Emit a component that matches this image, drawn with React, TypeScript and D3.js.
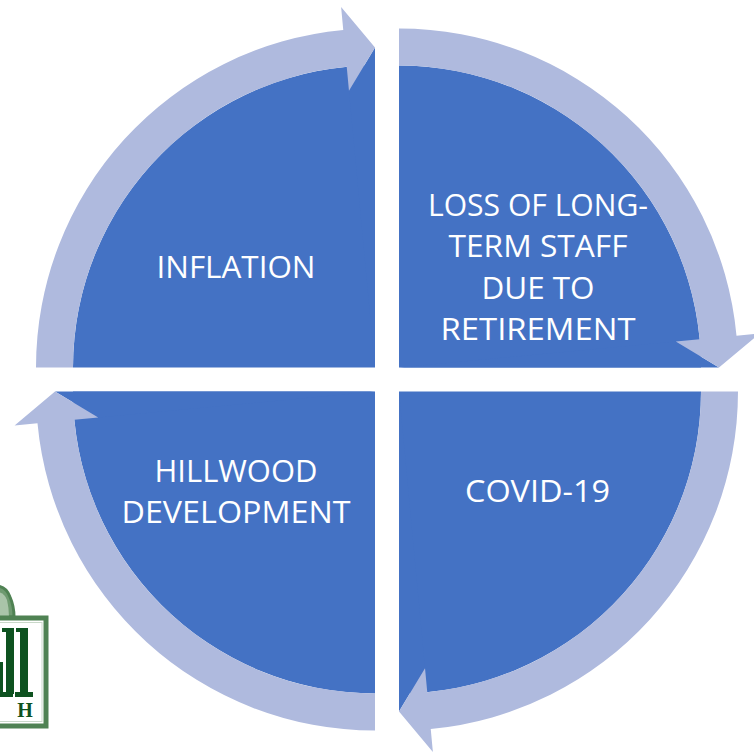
import React from "react";
import * as d3 from "d3";

// ---- data ----
const segments = ["INFLATION", "LOSS OF LONG-TERM STAFF DUE TO RETIREMENT", "COVID-19", "HILLWOOD DEVELOPMENT"];
const labelLines: string[][] = [
  ["INFLATION"],
  ["LOSS OF LONG-", "TERM STAFF", "DUE TO", "RETIREMENT"],
  ["COVID-19"],
  ["HILLWOOD", "DEVELOPMENT"],
];

// ---- layout ----
const W = 754;
const CX = 387;
const CY = 379.5;
const GAP = 12;
const R_IN = 302;
const R_OUT = 339;
const HEAD_IN = 278;
const HEAD_OUT = 362;
const R_TIP = 320;
const HEAD_LEN = 30;
const DARK = "#4472C4";
const LIGHT = "#AFBADE";
const FONT = "'Open Sans', Lato, sans-serif";
const FONT_SIZE = 31.5;
const LINE_H = 41.3;
const labelPos = [
  { x: 236, y: 278, widths: [159] },
  { x: 538, y: 216, widths: [220, 179, 113, 195] },
  { x: 537.5, y: 502, widths: [145] },
  { x: 236, y: 482, widths: [163, 229] },
];

const ox = -GAP;
const oy = -GAP;
const pt = (r: number, a: number): [number, number] => [ox + r * Math.cos(a), oy + r * Math.sin(a)];

const a0 = Math.PI;
const a1 = 1.5 * Math.PI;
const ab = a1 - HEAD_LEN / R_TIP;

function arrowPath(): string {
  const p = d3.path();
  const s = pt(R_OUT, a0);
  p.moveTo(s[0], s[1]);
  p.arc(ox, oy, R_OUT, a0, ab, false);
  const ho = pt(HEAD_OUT, ab);
  const tip = pt(R_TIP, a1);
  const hi = pt(HEAD_IN, ab);
  const ib = pt(R_IN, ab);
  p.lineTo(ho[0], ho[1]);
  p.lineTo(tip[0], tip[1]);
  p.lineTo(hi[0], hi[1]);
  p.lineTo(ib[0], ib[1]);
  p.arc(ox, oy, R_IN, ab, a0, true);
  p.closePath();
  return p.toString();
}

const quarter = d3.arc<any>()({
  innerRadius: 0,
  outerRadius: R_IN,
  startAngle: -Math.PI / 2,
  endAngle: 0,
}) as string;

function wedgeFill(): string {
  const tip = pt(R_TIP, a1);
  const hi = pt(HEAD_IN, ab);
  return d3.line()([[ox, oy], tip, hi]) + "Z";
}

export default function App() {
  const arrow = arrowPath();
  const wedge = wedgeFill();
  const logoGreen = "#4F8253";
  const logoDark = "#0E5220";
  return (
    <svg
      width={W}
      height={W}
      viewBox={`0 0 ${W} ${W}`}
      style={{ position: "absolute", left: 0, top: 0, background: "#fff" }}
    >
      <rect x={0} y={0} width={W} height={W} fill="#fff" />
      {segments.map((s, k) => (
        <g key={"q" + k} transform={`translate(${CX},${CY}) rotate(${k * 90})`}>
          <path d={quarter} transform={`translate(${ox},${oy})`} fill={DARK} />
          <path d={wedge} fill={DARK} />
        </g>
      ))}
      {segments.map((s, k) => (
        <g key={"a" + k} transform={`translate(${CX},${CY}) rotate(${k * 90})`}>
          <path d={arrow} fill={LIGHT} />
        </g>
      ))}
      {labelLines.map((lines, k) => (
        <g key={"t" + k}>
          {lines.map((ln, i) => (
            <text
              key={i}
              x={labelPos[k].x}
              y={labelPos[k].y + i * LINE_H}
              textAnchor="middle"
              fill="#fff"
              fontFamily={FONT}
              fontSize={FONT_SIZE}
              textLength={labelPos[k].widths[i]}
              lengthAdjust="spacingAndGlyphs"
            >
              {ln}
            </text>
          ))}
        </g>
      ))}
      {/* logo fragment, lower left */}
      <g>
        <path d="M -4 617 L -4 586 Q 6 586 10 597 Q 14 606 14 617 Z" fill="#6E9A70" stroke={logoGreen} strokeWidth={3} />
        <path d="M -4 617 L -4 592 Q 4 592 7 600 Q 9 608 9 617 Z" fill="#A9C4A9" />
        <rect x={-20} y={618} width={66} height={108} fill="#fff" stroke={logoGreen} strokeWidth={5} />
        <rect x={-20} y={622.5} width={62} height={99} fill="none" stroke="#C9D8C9" strokeWidth={1} />
        {/* partial letter */}
        <rect x={0} y={662} width={3} height={32} fill={logoDark} />
        {/* first l */}
        <rect x={6} y={630} width={8} height={64} fill={logoDark} />
        <rect x={2} y={628} width={12} height={4} fill={logoDark} />
        <rect x={0} y={692} width={13} height={5} fill={logoDark} />
        {/* second l */}
        <rect x={20} y={630} width={8} height={64} fill={logoDark} />
        <rect x={16} y={628} width={12} height={4} fill={logoDark} />
        <rect x={15} y={692} width={18} height={5} fill={logoDark} />
        <text x={25} y={717} textAnchor="middle" fontFamily="'Liberation Serif', serif" fontWeight="bold" fontSize={20} fill={logoDark}>
          H
        </text>
      </g>
    </svg>
  );
}
